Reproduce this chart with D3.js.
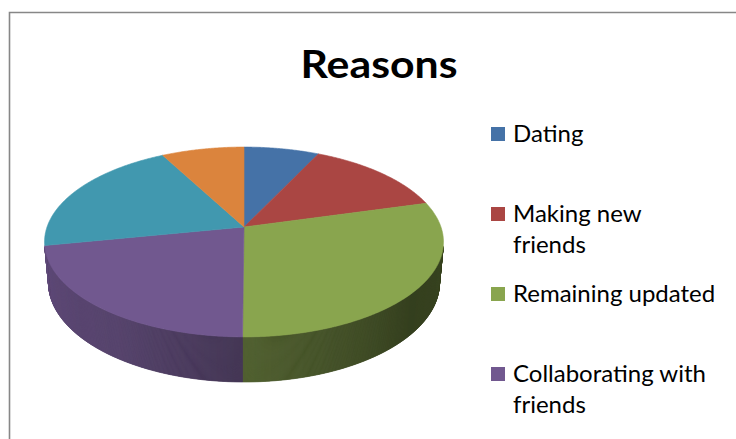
<!DOCTYPE html>
<html>
<head>
<meta charset="utf-8">
<script src="https://cdn.jsdelivr.net/npm/d3@7"></script>
<style>
  html, body { margin: 0; padding: 0; background: #fff; }
  svg { display: block; }
</style>
</head>
<body>
<svg id="chart" width="736" height="439"></svg>
<script>
// Survey answers: share of respondents per reason (percent)
const categories = ["Dating", "Making new friends", "Remaining updated",
                    "Collaborating with friends", "Entertainment", "Other"];
const shares = [7.1, 13.6, 29.4, 21.8, 20.3, 7.8];
const palette = ["#4572A7", "#AA4643", "#89A54E", "#71588F", "#4198AF", "#DB843D"];
const chartTitle = "Reasons";

const W = 736, H = 439;
const svg = d3.select("#chart");

// chart area frame
svg.append("path")
  .attr("d", `M9.5,${H + 10}V12.5H${W + 10}`)
  .attr("fill", "none")
  .attr("stroke", "#878787")
  .attr("stroke-width", 1.6);

// title
svg.append("text")
  .attr("x", 379).attr("y", 78)
  .attr("text-anchor", "middle")
  .attr("font-family", "Lato, 'Open Sans', sans-serif")
  .attr("font-weight", 700)
  .attr("font-size", 38)
  .attr("fill", "#000")
  .attr("textLength", 157)
  .attr("lengthAdjust", "spacingAndGlyphs")
  .text(chartTitle);

// ---- 3D pie: perspective projection of a short cylinder ----
const cam = { cx: 244, cy: 227, focal: 1101, dist: 5.59, sinT: 0.47 };
cam.cosT = Math.sqrt(1 - cam.sinT * cam.sinT);
const radius = 1, thickness = 0.236;

// a: angle clockwise from the far side, y: height (0 = top face)
function project(a, y) {
  const X = radius * Math.sin(a), Z = -radius * Math.cos(a);
  const depth = cam.dist - y * cam.sinT - Z * cam.cosT;
  const v = y * cam.cosT - Z * cam.sinT;
  return [cam.cx + cam.focal * X / depth, cam.cy - cam.focal * v / depth];
}

const data = categories.map((c, i) => ({ name: c, value: shares[i], color: palette[i] }));
const arcs = d3.pie().sort(null).value(d => d.value)(data);

const step = Math.PI / 360;
function rimPoints(a0, a1, y) {
  const n = Math.max(1, Math.ceil((a1 - a0) / step));
  return d3.range(n + 1).map(i => project(a0 + (a1 - a0) * i / n, y));
}

// side wall: only the part facing the viewer
const aMin = Math.acos(-radius / (cam.dist * cam.cosT));
const aMax = 2 * Math.PI - aMin;
const shade = d3.scaleLinear()
  .domain([100, 130, 180, 215, 260])
  .range([0.42, 0.38, 0.56, 0.75, 0.84])
  .clamp(true);

const sideG = svg.append("g").attr("class", "sides");
const line = d3.line();
arcs.forEach(arc => {
  const s = Math.max(arc.startAngle, aMin), e = Math.min(arc.endAngle, aMax);
  if (s >= e) return;
  const base = d3.rgb(arc.data.color);
  const n = Math.max(1, Math.ceil((e - s) / (step / 2)));
  for (let i = 0; i < n; i++) {
    const u0 = s + (e - s) * i / n, u1 = s + (e - s) * (i + 1) / n;
    const k = shade(((u0 + u1) / 2) * 180 / Math.PI);
    const c = d3.rgb(base.r * k, base.g * k, base.b * k).formatHex();
    const pts = [project(u0, 0), project(u1, 0), project(u1, -thickness), project(u0, -thickness)];
    sideG.append("path")
      .attr("d", line(pts) + "Z")
      .attr("fill", c)
      .attr("stroke", c)
      .attr("stroke-width", 0.7);
  }
});

// top faces
const topG = svg.append("g").attr("class", "tops");
arcs.forEach(arc => {
  const pts = [[cam.cx, cam.cy]].concat(rimPoints(arc.startAngle, arc.endAngle, 0));
  topG.append("path")
    .attr("d", line(pts) + "Z")
    .attr("fill", arc.data.color)
    .attr("stroke", arc.data.color)
    .attr("stroke-width", 0.6)
    .attr("stroke-linejoin", "round");
});

// ---- legend (rows that run past the chart area are left out) ----
const legendTop = 127, maxLine = 204, lineH = 31, rowH = 80;
const legend = svg.append("g").attr("transform", `translate(491,${legendTop})`);
data.forEach((d, i) => {
  if (legendTop + i * rowH + 14 > H) return;
  const row = legend.append("g").attr("transform", `translate(0,${i * rowH})`);
  row.append("rect").attr("width", 14).attr("height", 14).attr("fill", d.color);
  const t = row.append("text")
    .attr("font-family", "Lato, 'Open Sans', sans-serif")
    .attr("font-size", 24)
    .attr("fill", "#000");
  // wrap words into lines that fit the legend width
  const words = d.name.split(" ");
  let lineNo = 0;
  let tspan = t.append("tspan").attr("x", 22).attr("y", 15);
  let current = [];
  words.forEach(w => {
    current.push(w);
    tspan.text(current.join(" "));
    if (tspan.node().getComputedTextLength() > maxLine && current.length > 1) {
      current.pop();
      tspan.text(current.join(" "));
      current = [w];
      lineNo++;
      tspan = t.append("tspan").attr("x", 22).attr("y", 15 + lineNo * lineH).text(w);
    }
  });
});
</script>
</body>
</html>
